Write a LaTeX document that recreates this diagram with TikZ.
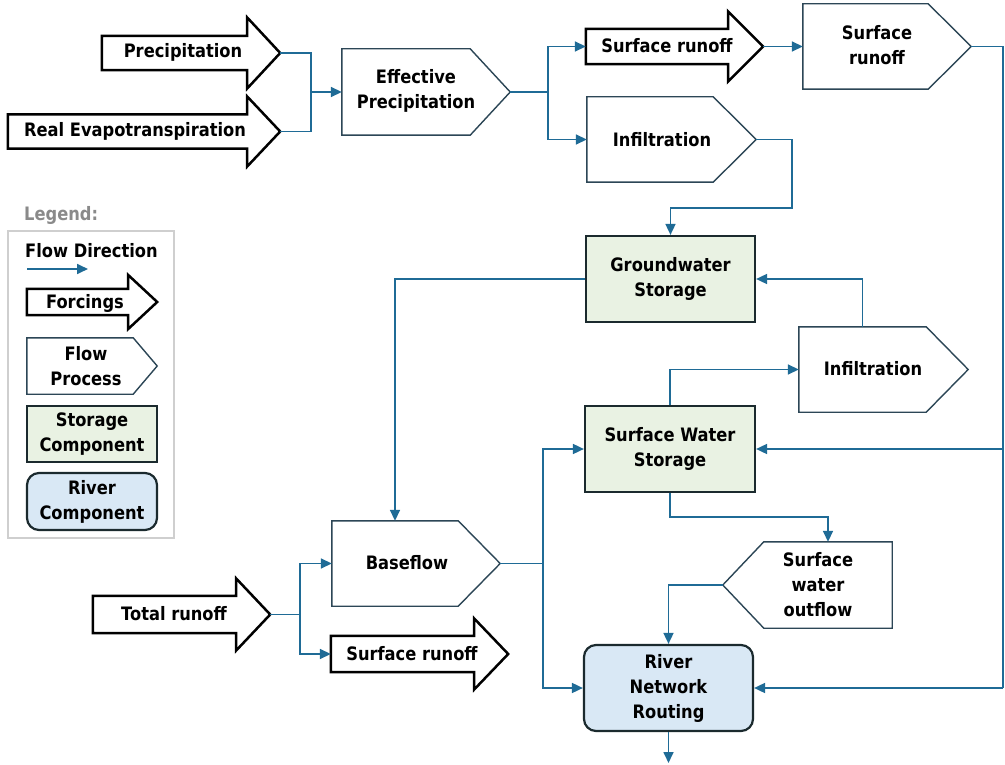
\documentclass[tikz,border=0pt]{standalone}
\usepackage{fontspec}
\setmainfont{DejaVu Sans}[FakeStretch=0.88]
\usetikzlibrary{arrows.meta,calc}
\definecolor{flowc}{HTML}{1F6B96}
\definecolor{procc}{HTML}{2C4656}
\definecolor{storc}{HTML}{1B2A2E}
\definecolor{storf}{HTML}{E9F2E3}
\definecolor{rivf}{HTML}{D9E8F5}
\definecolor{legc}{HTML}{CFCFCF}
\definecolor{legt}{HTML}{8A8A8A}
\newcommand\forcshape[3]{%
  \draw[forc] (#1.north west) -- (#1.north east) -- ($(#1.east)+(0,-#2)$) -- ($(#1.east)+(#3,0)$) -- ($(#1.east)+(0,#2)$) -- (#1.south east) -- (#1.south west) -- cycle;
  \coordinate (#1-tip) at ($(#1.east)+(#3,0)$);}
\newcommand\procshape[2]{%
  \draw[proc] (#1.north west) -- (#1.north east) -- ($(#1.east)+(#2,0)$) -- (#1.south east) -- (#1.south west) -- cycle;
  \coordinate (#1-tip) at ($(#1.east)+(#2,0)$);}
\newcommand\procshapeL[2]{%
  \draw[proc] (#1.north east) -- (#1.north west) -- ($(#1.west)+(-#2,0)$) -- (#1.south west) -- (#1.south east) -- cycle;
  \coordinate (#1-tip) at ($(#1.west)+(-#2,0)$);}
\begin{document}
\begin{tikzpicture}[x=1pt,y=-1pt,
  txt/.style={font=\fontsize{18.5}{25}\selectfont\bfseries, align=center, inner sep=0pt},
  body/.style={inner sep=0pt, minimum width=#1},
  forc/.style={draw=black, line width=2.5pt, fill=white, line join=miter},
  proc/.style={draw=procc, line width=1.4pt, fill=white, line join=miter},
  stor/.style={draw=storc, line width=2.2pt, fill=storf},
  riv/.style={draw=storc, line width=2.2pt, fill=rivf, rounded corners=12pt},
  line/.style={draw=flowc, line width=1.7pt},
  flow/.style={line, -{Triangle[length=11pt,width=10pt]}},
]
\useasboundingbox[fill=white] (0,0) rectangle (1005,765);

% ---------- forcings ----------
\node[body=145pt, minimum height=34pt] (prec) at (174.5,53) {};
\forcshape{prec}{35.5}{33}
\node[txt] (prec-t) at (183,52) {Precipitation};

\node[body=239pt, minimum height=34pt] (ret) at (127.5,131.5) {};
\forcshape{ret}{35}{33}
\node[txt] (ret-t) at (135,131) {Real Evapotranspiration};

\node[body=142pt, minimum height=35pt] (srf1) at (657,46.5) {};
\forcshape{srf1}{35}{35}
\node[txt] (srf1-t) at (667,46) {Surface runoff};

\node[body=143pt, minimum height=37pt] (tot) at (164.5,614.5) {};
\forcshape{tot}{36}{34}
\node[txt] (tot-t) at (174,614) {Total runoff};

\node[body=143pt, minimum height=36pt] (srf2) at (402.5,654) {};
\forcshape{srf2}{35.5}{34}
\node[txt] (srf2-t) at (412,654) {Surface runoff};

% ---------- processes ----------
\node[body=128pt, minimum height=86pt] (effp) at (406,92) {};
\procshape{effp}{40}
\node[txt] (effp-t) at (416,91) {Effective\\Precipitation};

\node[body=126pt, minimum height=85pt] (inf1) at (650,139.5) {};
\procshape{inf1}{43}
\node[txt] (inf1-t) at (662,140) {Infiltration};

\node[body=125pt, minimum height=85pt] (srp) at (865.5,46.5) {};
\procshape{srp}{43}
\node[txt] (srp-t) at (877,45) {Surface\\runoff};

\node[body=127pt, minimum height=85pt] (inf2) at (862.5,369.5) {};
\procshape{inf2}{42}
\node[txt] (inf2-t) at (873,369) {Infiltration};

\node[body=126pt, minimum height=85pt] (base) at (395,563.5) {};
\procshape{base}{42}
\node[txt] (base-t) at (407,563) {Baseflow};

\node[body=128pt, minimum height=86pt] (swo) at (828,585) {};
\procshapeL{swo}{41}
\node[txt] (swo-t) at (818,585) {Surface\\water\\outflow};

% ---------- storages and river ----------
\node[stor, txt, minimum width=169pt, minimum height=86pt] (gws) at (670.5,279) {Groundwater\\Storage};
\node[stor, txt, minimum width=170pt, minimum height=86pt] (sws) at (670,449) {Surface Water\\Storage};
\node[riv, txt, minimum width=169pt, minimum height=86pt] (rnr) at (668.5,688) {River\\Network\\Routing};

% ---------- connectors ----------
\coordinate (j1) at (311,92);
\draw[line] (prec-tip) -| (j1);
\draw[line] (ret-tip) -| (j1);
\draw[flow] (j1) -- (effp.west);

\coordinate (j2) at (548,92);
\draw[line] (effp-tip) -- (j2);
\draw[flow] (j2) |- (srf1.west);
\draw[flow] (j2) |- (inf1.west);
\draw[flow] (srf1-tip) -- (srp.west);

\coordinate (rtop) at (1003,46.5);
\coordinate (rmid) at (1003,449);
\coordinate (rbot) at (1003,688);
\draw[line] (srp-tip) -- (rtop) -- (rbot);
\draw[flow] (rbot) -- (rnr.east);
\draw[flow] (rmid) -- (sws.east);

\coordinate (c1) at (792,208);
\draw[flow] (inf1-tip) -| (c1) -| (gws.north);
\draw[flow] (inf2.north) |- (gws.east);
\draw[flow] (sws.north) |- (inf2.west);
\draw[flow] (gws.west) -| (base.north);

\coordinate (j3) at (543,563.5);
\draw[line] (base-tip) -- (j3);
\draw[flow] (j3) |- (sws.west);
\draw[flow] (j3) |- (rnr.west);

\coordinate (j4) at (300,614.5);
\draw[line] (tot-tip) -- (j4);
\draw[flow] (j4) |- (base.west);
\draw[flow] (j4) |- (srf2.west);

\coordinate (c2) at (828,517);
\draw[flow] (sws.south) |- (c2) -- (swo.north);
\draw[flow] (swo-tip) -| (rnr.north);
\coordinate (outp) at (668.5,763);
\draw[flow] (rnr.south) -- (outp);

% ---------- legend ----------
\node[txt, text=legt, anchor=west] (legtitle) at (24,215) {Legend:};
\node[draw=legc, line width=1.5pt, minimum width=166pt, minimum height=307pt, inner sep=0pt] (legbox) at (91,384.5) {};
\node[txt, anchor=west] (legflow) at (25,251) {Flow Direction};
\coordinate (lega) at (27,269);
\coordinate (legb) at (88,269);
\draw[flow] (lega) -- (legb);

\node[body=101pt, minimum height=26pt] (legforc) at (77.5,302) {};
\forcshape{legforc}{27}{29}
\node[txt] (legforc-t) at (85,303) {Forcings};

\node[body=106pt, minimum height=56pt] (legproc) at (80,366) {};
\procshape{legproc}{24}
\node[txt] (legproc-t) at (86,366) {Flow\\Process};

\node[stor, txt, minimum width=130pt, minimum height=56pt] (legstor) at (92,434) {Storage\\Component};
\node[riv, txt, minimum width=130pt, minimum height=57pt] (legriv) at (92,501.5) {River\\Component};
\end{tikzpicture}
\end{document}
